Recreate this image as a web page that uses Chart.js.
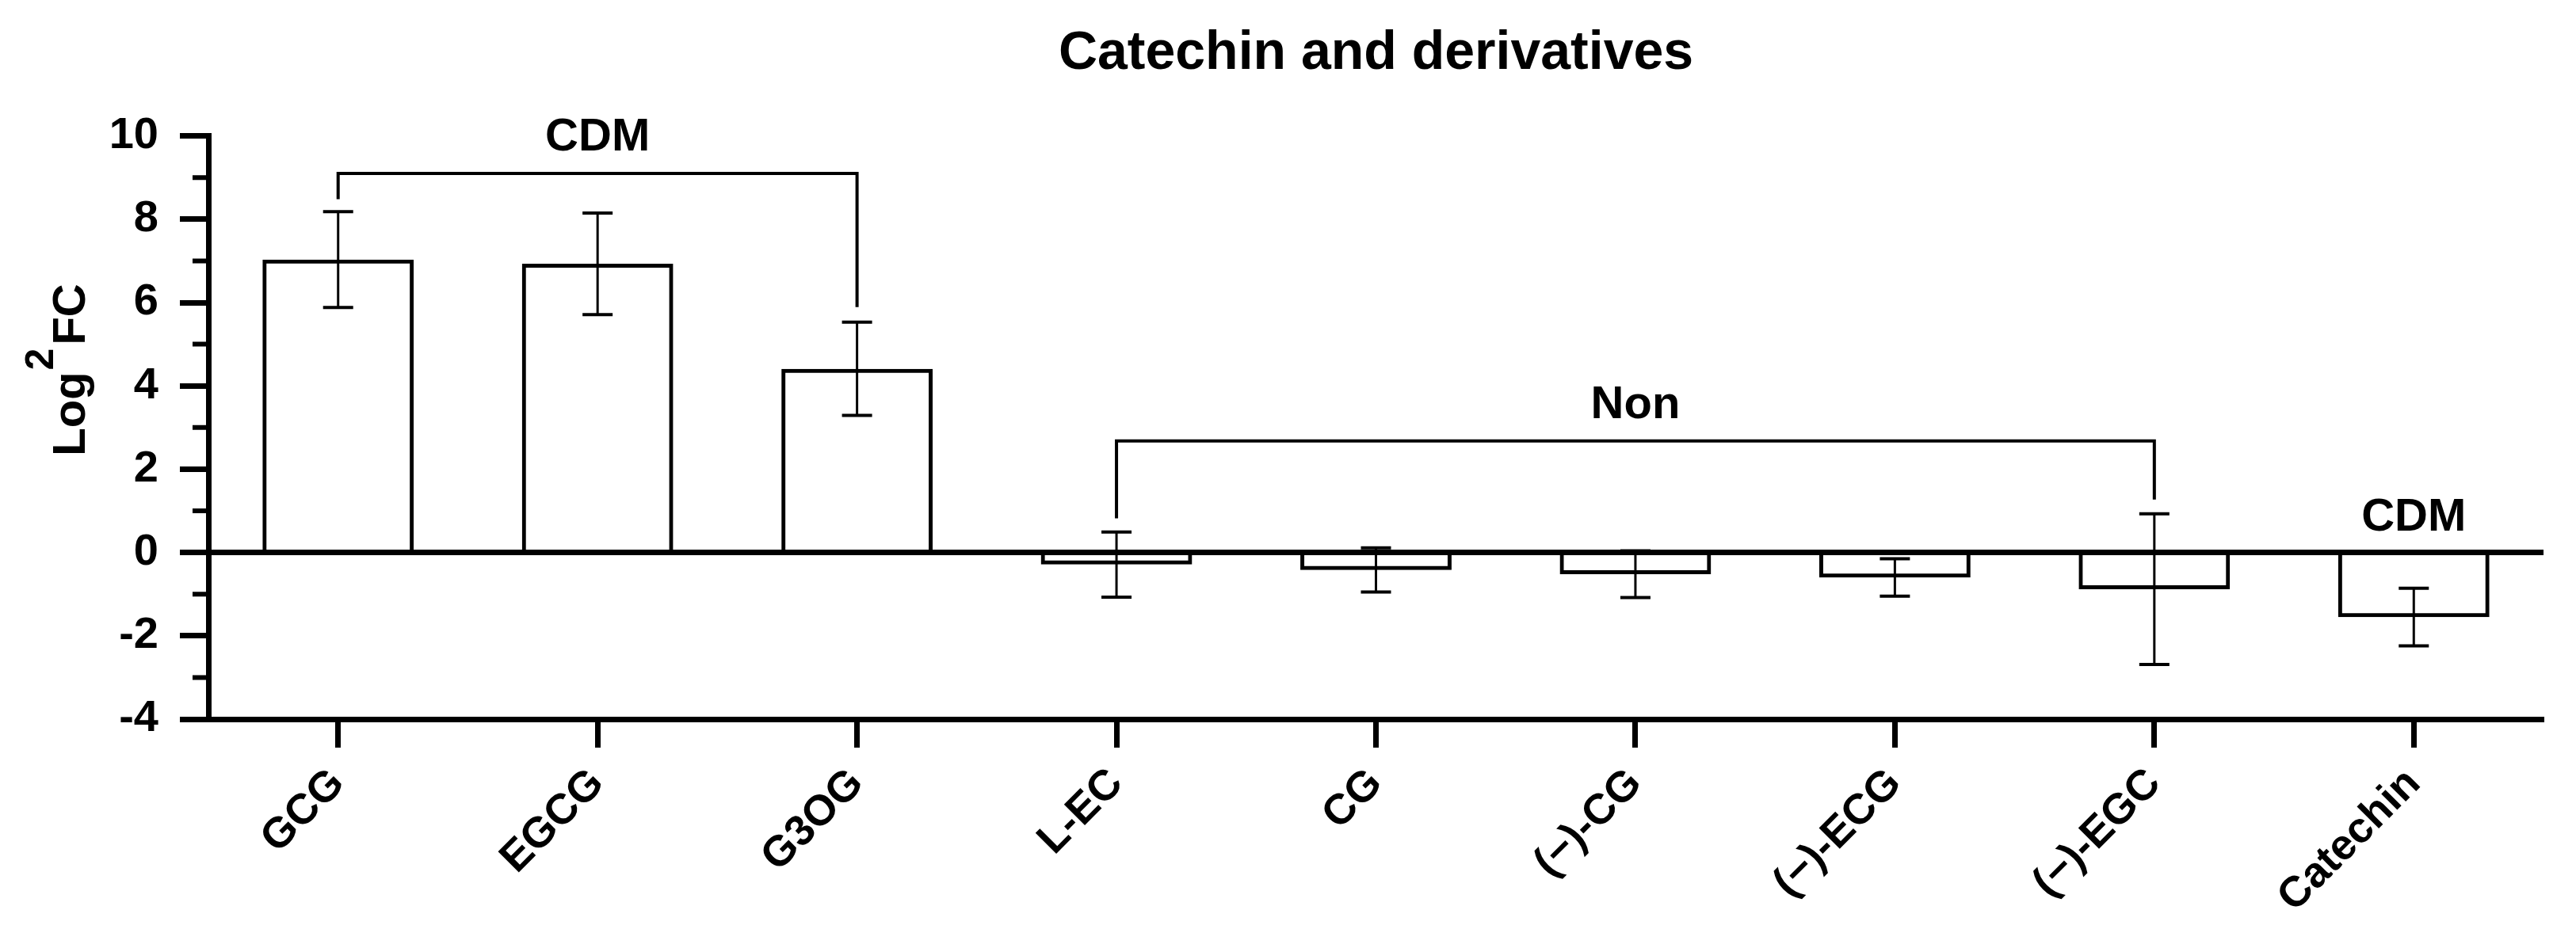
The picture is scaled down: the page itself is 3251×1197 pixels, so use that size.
<!DOCTYPE html>
<html><head><meta charset="utf-8">
<script src="https://cdn.jsdelivr.net/npm/chart.js@4.4.1/dist/chart.umd.min.js"></script>
<style>html,body{margin:0;padding:0;background:#fff;} canvas{display:block;}</style>
</head><body>
<canvas id="c" width="3251" height="1197"></canvas>
<script>
const categories = ['GCG','EGCG','G3OG','L-EC','CG','(\u2212)-CG','(\u2212)-ECG','(\u2212)-EGC','Catechin'];
const log2FC = [7.03, 6.93, 4.41, -0.29, -0.42, -0.52, -0.60, -0.88, -1.55];
const errorSD = [1.15, 1.22, 1.12, 0.78, 0.53, 0.56, 0.45, 1.81, 0.69];
const yTicks = [-4, -2, 0, 2, 4, 6, 8, 10];
const bracketLabels = ['CDM', 'Non'];
const bracketFrom = [0, 3];
const bracketTo = [2, 7];
const bracketLevel = [9.1, 2.68];
const bracketFootFrom = [8.48, 0.82];
const bracketFootTo = [5.89, 1.27];
const singleLabels = ['CDM'];
const singleIndex = [8];
const singleLevel = [0.53];

const F = "'Liberation Sans', Arial, Helvetica, sans-serif";

const overlay = {
  id: 'overlay',
  afterDatasetsDraw(chart) {
    const {ctx, scales: {x, y}} = chart;
    const meta = chart.getDatasetMeta(0);
    ctx.save();
    ctx.strokeStyle = '#000'; ctx.fillStyle = '#000';
    ctx.lineCap = 'butt';
    meta.data.forEach((bar, i) => {
      const v = log2FC[i], e = errorSD[i];
      const yt = y.getPixelForValue(v + e), yb = y.getPixelForValue(v - e);
      ctx.lineWidth = 3;
      ctx.beginPath();
      ctx.moveTo(bar.x, yt); ctx.lineTo(bar.x, yb); ctx.stroke();
      ctx.lineWidth = 4;
      ctx.beginPath();
      ctx.moveTo(bar.x - 19, yt); ctx.lineTo(bar.x + 19, yt);
      ctx.moveTo(bar.x - 19, yb); ctx.lineTo(bar.x + 19, yb);
      ctx.stroke();
    });
    ctx.font = 'bold 58px ' + F;
    ctx.textAlign = 'center';
    ctx.textBaseline = 'alphabetic';
    bracketLabels.forEach((lab, k) => {
      const x1 = x.getPixelForValue(bracketFrom[k]);
      const x2 = x.getPixelForValue(bracketTo[k]);
      const yl = y.getPixelForValue(bracketLevel[k]);
      ctx.lineWidth = 4;
      ctx.beginPath();
      ctx.moveTo(x1, y.getPixelForValue(bracketFootFrom[k]));
      ctx.lineTo(x1, yl);
      ctx.lineTo(x2, yl);
      ctx.lineTo(x2, y.getPixelForValue(bracketFootTo[k]));
      ctx.stroke();
      ctx.fillText(lab, (x1 + x2) / 2, yl - 29);
    });
    singleLabels.forEach((lab, k) => {
      ctx.fillText(lab, x.getPixelForValue(singleIndex[k]), y.getPixelForValue(singleLevel[k]));
    });
    ctx.restore();
  },
  afterDraw(chart) {
    const {ctx, chartArea: a, scales: {y}} = chart;
    ctx.save();
    ctx.strokeStyle = '#000'; ctx.fillStyle = '#000';
    ctx.lineWidth = 6;
    ctx.beginPath();
    for (let i = 0; i < yTicks.length - 1; i++) {
      const py = y.getPixelForValue((yTicks[i] + yTicks[i + 1]) / 2);
      ctx.moveTo(a.left, py); ctx.lineTo(a.left - 20, py);
    }
    ctx.stroke();
    ctx.translate(107, 467);
    ctx.rotate(-Math.PI / 2);
    ctx.textBaseline = 'alphabetic';
    ctx.textAlign = 'left';
    const big = 'bold 58px ' + F, sup = 'bold 50px ' + F;
    ctx.font = big; const w1 = ctx.measureText('Log').width; const w3 = ctx.measureText('FC').width;
    ctx.font = sup; const w2 = ctx.measureText('2').width;
    const total = w1 + w2 + w3 + 6;
    let cx = -total / 2;
    ctx.font = big; ctx.fillText('Log', cx, 0); cx += w1 + 2;
    ctx.font = sup; ctx.fillText('2', cx, -40); cx += w2 + 4;
    ctx.font = big; ctx.fillText('FC', cx, 0);
    ctx.restore();
  }
};

new Chart(document.getElementById('c'), {
  type: 'bar',
  data: {
    labels: categories,
    datasets: [{
      data: log2FC,
      backgroundColor: 'rgba(255,255,255,0)',
      borderColor: '#000',
      borderWidth: 5,
      borderSkipped: 'start',
      barPercentage: 0.583,
      categoryPercentage: 1.0
    }]
  },
  options: {
    responsive: false,
    devicePixelRatio: 1,
    animation: false,
    layout: {padding: {top: 0, right: 41, bottom: 0, left: 0}},
    plugins: {
      legend: {display: false},
      tooltip: {enabled: false},
      title: {
        display: true,
        text: 'Catechin and derivatives',
        fullSize: false,
        color: '#000',
        font: {family: F, size: 68, weight: 'bold'},
        padding: {top: 27, bottom: 63}
      }
    },
    scales: {
      x: {
        offset: true,
        grid: {display: true, drawOnChartArea: false, drawTicks: true, offset: false, tickLength: 36, tickWidth: 7, tickColor: '#000', color: '#000'},
        border: {display: true, width: 7, color: '#000'},
        ticks: {autoSkip: false, maxRotation: 45, minRotation: 45, padding: 14, color: '#000', font: {family: F, size: 54, weight: 'bold'}},
        afterFit: s => { s.height = 289; }
      },
      y: {
        min: -4, max: 10,
        afterBuildTicks: s => { s.ticks = yTicks.map(v => ({value: v})); },
        grid: {
          drawOnChartArea: true, drawTicks: true, tickLength: 36, tickWidth: 7, tickColor: '#000',
          color: c => (c.tick && c.tick.value === 0) ? '#000' : 'rgba(0,0,0,0)',
          lineWidth: 7
        },
        border: {display: true, width: 7, color: '#000'},
        ticks: {padding: 27, color: '#000', font: {family: F, size: 56, weight: 'bold'}},
        afterFit: s => { s.width = 263; }
      }
    }
  },
  plugins: [overlay]
});
</script>
</body></html>
